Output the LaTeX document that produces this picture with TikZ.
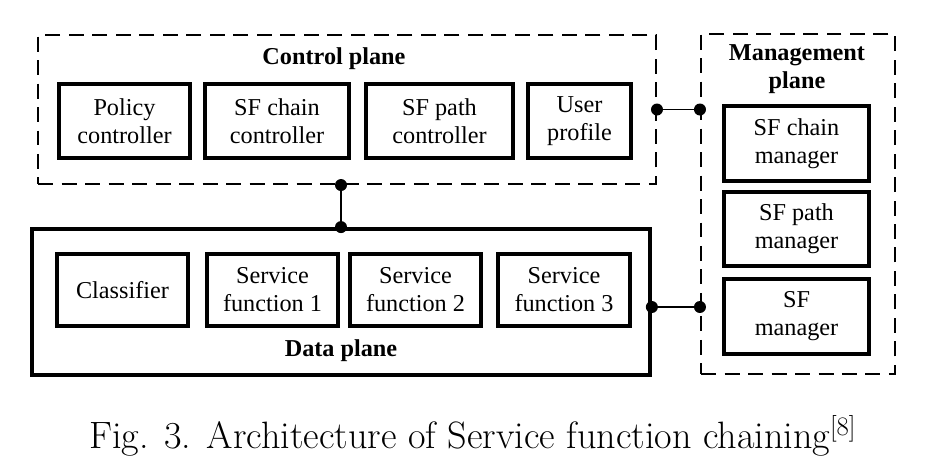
\documentclass[tikz,border=0pt]{standalone}
\usepackage{fontspec}
\newfontfamily\timesfont{Liberation Serif}
\usepackage{tikz}
\usetikzlibrary{positioning,calc}

\tikzset{
  unit/.style={draw, line width=2.5pt, align=center, inner sep=0pt,
    font=\timesfont\fontsize{13.8}{16}\selectfont},
  ctlbox/.style={unit, minimum height=1.47cm},
  mgrbox/.style={unit, minimum width=2.89cm},
  databox/.style={unit, minimum height=1.43cm, minimum width=2.61cm},
  dashplane/.style={draw, line width=1.2pt, dash pattern=on 0.3cm off 0.17cm, inner sep=0pt},
  planetitle/.style={font=\timesfont\bfseries\fontsize{13.8}{16}\selectfont, align=center, inner sep=0pt},
  link/.style={line width=1pt},
  joint/.style={fill, circle, inner sep=0pt, minimum size=0.24cm}
}

\begin{document}
\begin{tikzpicture}[x=0.02cm, y=-0.02cm]
    \useasboundingbox (0,0) rectangle (927,474);

    % planes
    \node[dashplane, minimum width=12.36cm, minimum height=2.98cm] (ctrl) at (347,109.5) {};
    \node[dashplane, minimum width=3.88cm, minimum height=6.8cm] (mgmt) at (798,204) {};
    \node[draw, line width=2.2pt, inner sep=0pt, minimum width=12.36cm, minimum height=2.92cm] (data) at (341,302) {};

    \node[planetitle] (ctrltitle) at (334,59) {Control plane};
    \node[planetitle] (mgmttitle) at (797,69) {Management\\plane};
    \node[planetitle] (datatitle) at (341,351) {Data plane};

    % control plane
    \node[ctlbox, minimum width=2.61cm] (policy) at (124.5,121) {Policy\\controller};
    \node[ctlbox, minimum width=2.87cm] (chainctl) at (277,121) {SF chain\\controller};
    \node[ctlbox, minimum width=2.93cm] (pathctl) at (439.5,121) {SF path\\controller};
    \node[ctlbox, minimum width=2.05cm] (profile) at (579.5,121) {User\\profile};

    % management plane
    \node[mgrbox, minimum height=1.49cm] (chainmgr) at (796.5,143.5) {SF chain\\manager};
    \node[mgrbox, minimum height=1.47cm] (pathmgr) at (796.5,229) {SF path\\manager};
    \node[mgrbox, minimum height=1.49cm] (sfmgr) at (796.5,316.5) {SF\\manager};

    % data plane
    \node[databox] (classifier) at (122.5,290) {Classifier};
    \node[databox] (sf1) at (272.5,290) {Service\\function 1};
    \node[databox] (sf2) at (415.5,290) {Service\\function 2};
    \node[databox, minimum width=2.63cm] (sf3) at (564,290) {Service\\function 3};

    % connections
    \draw[link] (ctrl.east) node[joint] {} -- (ctrl.east -| mgmt.west) node[joint] {};
    \draw[link] (data.north) node[joint] {} -- (data.north |- ctrl.south) node[joint] {};
    \draw[link] ($(data.east)+(0,5)$) node[joint] {} -- ($(data.east -| mgmt.west)+(0,5)$) node[joint] {};

    \node[font=\fontsize{21.7}{26}\selectfont, inner sep=0pt] (caption) at (473,436)
        {Fig. 3. Architecture of Service function chaining\textsuperscript{[8]}};
\end{tikzpicture}
\end{document}
